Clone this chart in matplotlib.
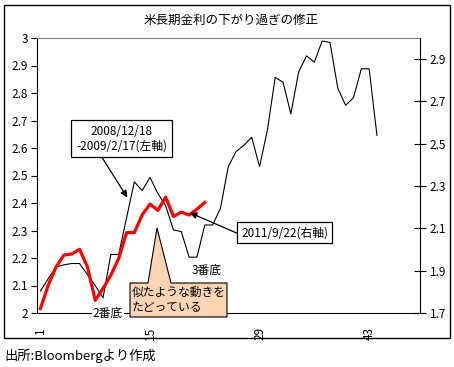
import matplotlib
matplotlib.use("Agg")
import matplotlib.pyplot as plt
from matplotlib.patches import Polygon, Rectangle

plt.rcParams['font.family'] = ['Noto Sans CJK JP', 'DejaVu Sans']

# 2008/12/18-2009/2/17 (left axis)
black = [2.08, 2.125, 2.167, 2.175, 2.18, 2.18, 2.14, 2.10, 2.055, 2.213,
         2.213, 2.345, 2.477, 2.445, 2.493, 2.435, 2.39, 2.302, 2.296, 2.203,
         2.203, 2.32, 2.32, 2.38, 2.532, 2.587, 2.61, 2.639, 2.532, 2.665,
         2.857, 2.839, 2.724, 2.877, 2.935, 2.912, 2.989, 2.984, 2.817, 2.755,
         2.783, 2.888, 2.888, 2.646]
# 2011/9/22 (right axis)
red = [1.721, 1.832, 1.918, 1.974, 1.979, 2.001, 1.918, 1.760, 1.816, 1.879,
       1.958, 2.08, 2.08, 2.164, 2.215, 2.185, 2.248, 2.156, 2.177, 2.163,
       2.191, 2.223]
x_black = list(range(1, len(black) + 1))
x_red = list(range(1, len(red) + 1))
x_ticks = [1, 15, 29, 43]
left_ticks = [2.0, 2.1, 2.2, 2.3, 2.4, 2.5, 2.6, 2.7, 2.8, 2.9, 3.0]
right_ticks = [1.7, 1.9, 2.1, 2.3, 2.5, 2.7, 2.9]

W, H = 454, 367
fig = plt.figure(figsize=(W / 100, H / 100), dpi=100)


def px(x, y):
    # pixel position from top-left -> figure fraction
    return x / W, 1 - y / H


ax = fig.add_axes([36.5 / W, 54 / H, 383.5 / W, 275 / H])
ax2 = ax.twinx()

ax.plot(x_black, black, color="black", lw=0.8)
ax2.plot(x_red, red, color="#ff0000", lw=2.3)

ax.set_xlim(0.5, 49.5)
ax.set_ylim(2, 3)
ax2.set_ylim(1.7, 3.0)

ax.set_xticks(x_ticks)
ax.set_xticklabels([str(t) for t in x_ticks], rotation=90, fontsize=8.5)
ax.tick_params(axis="x", length=0, pad=10)
ax.set_yticks(left_ticks)
ax.set_yticklabels([f"{t:g}" for t in left_ticks], fontsize=8.5)
ax.tick_params(axis="y", direction="out", length=4, width=0.8, pad=2)
ax2.set_yticks(right_ticks)
ax2.set_yticklabels([f"{t:g}" for t in right_ticks], fontsize=8.5)
ax2.tick_params(axis="y", direction="inout", length=8, width=0.8, pad=3)

ax.spines["top"].set_color("#808080")
ax.spines["right"].set_visible(False)
for s in ["top", "left", "bottom"]:
    ax2.spines[s].set_visible(False)
ax2.spines["right"].set_linewidth(0.8)
ax.spines["left"].set_linewidth(0.8)
ax.spines["bottom"].set_linewidth(0.8)

fig.text(*px(231, 20), "米長期金利の下がり過ぎの修正", ha="center", va="center", fontsize=9)

# callout boxes with arrows
ax.annotate("2008/12/18\n-2009/2/17(左軸)", xy=(12.1, 2.42), xycoords="data",
            xytext=(121.5, H - 138.5), textcoords="figure pixels",
            ha="center", va="center", multialignment="center", fontsize=8.5,
            linespacing=1.15,
            bbox=dict(boxstyle="square,pad=0.4", fc="white", ec="black", lw=0.9),
            arrowprops=dict(arrowstyle="-|>", color="black", lw=0.9,
                            mutation_scale=10, relpos=(0.25, 0), shrinkA=0, shrinkB=0),
            zorder=10)
ax2.annotate("2011/9/22(右軸)", xy=(20.1, 2.174), xycoords="data",
             xytext=(284.7, H - 232.8), textcoords="figure pixels",
             ha="center", va="center", fontsize=8.5,
             bbox=dict(boxstyle="square,pad=0.35", fc="white", ec="black", lw=0.9),
             arrowprops=dict(arrowstyle="-|>", color="black", lw=0.9,
                             mutation_scale=10, relpos=(0, 0.33), shrinkA=0, shrinkB=0),
             zorder=10)

# orange speech callout
pts = [px(130, 283), px(148, 283), px(157, 228), px(171, 283), px(227, 283),
       px(227, 317), px(130, 317)]
fig.patches.append(Polygon(pts, closed=True, transform=fig.transFigure,
                           fc="#fbd4b4", ec="black", lw=0.8, zorder=5))
fig.text(*px(132, 300), "似たような動きを\nたどっている", ha="left", va="center",
         fontsize=8.5, linespacing=1.15, zorder=6)

fig.text(*px(108, 313), "2番底", ha="center", va="center", fontsize=8.5, zorder=6,
         bbox=dict(boxstyle="square,pad=0.1", fc="white", ec="none"))
fig.text(*px(206.5, 270.5), "3番底", ha="center", va="center", fontsize=8.5, zorder=6)

# outer chart border
fig.patches.append(Rectangle(px(4, 338), 446 / W, 333 / H, transform=fig.transFigure,
                             fill=False, ec="black", lw=1, zorder=1))

fig.text(*px(4, 356), "出所:Bloombergより作成", ha="left", va="center", fontsize=9.5)

fig.savefig("out.png", dpi=100)
